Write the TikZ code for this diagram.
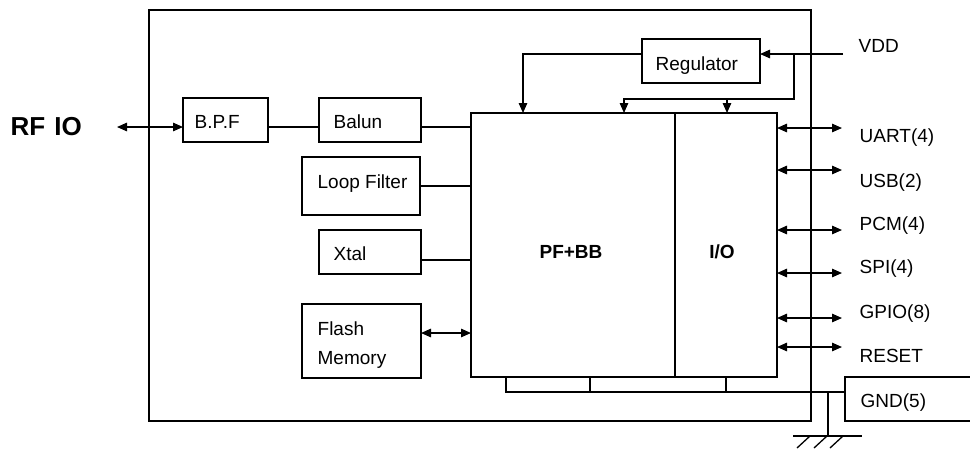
\documentclass[tikz,border=0pt]{standalone}
\usepackage{fontspec}
\setmainfont{Liberation Sans}
\usetikzlibrary{arrows.meta}
\begin{document}
\begin{tikzpicture}[x=1pt,y=-1pt,line width=1.3pt,
  blk/.style={draw,inner sep=0pt,outer sep=0pt},
  txt/.style={anchor=base west,inner sep=0pt,font=\fontsize{19}{22}\selectfont},
  btxt/.style={anchor=base,inner sep=0pt,font=\bfseries\fontsize{19}{22}\selectfont},
  arr/.style={-{Triangle[length=10pt,width=8.5pt]}},
  darr/.style={{Triangle[length=10pt,width=8.5pt]}-{Triangle[length=10pt,width=8.5pt]}}]
\useasboundingbox (0,0) rectangle (970,448);
% outer module box
\node[blk,minimum width=662pt,minimum height=411pt] (module) at (480,215.5) {};
% blocks
\node[blk,minimum width=85pt,minimum height=44pt] (bpf) at (225.5,120) {};
\node[blk,minimum width=102pt,minimum height=44pt] (balun) at (370,120) {};
\node[blk,minimum width=118pt,minimum height=58pt] (loop) at (361,186) {};
\node[blk,minimum width=102pt,minimum height=44pt] (xtal) at (370,252) {};
\node[blk,minimum width=119pt,minimum height=74pt] (flash) at (361.5,341) {};
\node[blk,minimum width=118pt,minimum height=44pt] (reg) at (701,61) {};
\node[blk,minimum width=204pt,minimum height=264pt] (pfbb) at (573,245) {};
\node[blk,minimum width=102pt,minimum height=264pt] (io) at (726,245) {};
% texts
\node[txt] (tbpf) at (194,128) {B.P.F};
\node[txt] (tbalun) at (333,128) {Balun};
\node[txt] (tloop) at (317,188) {Loop Filter};
\node[txt] (txtal) at (333,260) {Xtal};
\node[txt] (tflash) at (317,335) {Flash};
\node[txt] (tmem) at (317,364) {Memory};
\node[txt] (treg) at (655,70) {Regulator};
\node[txt] (tvdd) at (858,52) {VDD};
\node[txt] (tgnd) at (860,407) {GND(5)};
\node[btxt] (tpfbb) at (571,258) {PF+BB};
\node[btxt] (tio) at (722,258) {I/O};
\node[anchor=base west,inner sep=0pt,font=\bfseries\fontsize{26}{29}\selectfont] (rfio) at (10,135) {RF\hspace{9pt}IO};
% connection points
\coordinate (rfend) at (117,127);
\coordinate (bpfo) at ([yshift=-7pt]bpf.east);
\coordinate (baluni) at ([yshift=-7pt]balun.west);
\coordinate (baluno) at ([yshift=-7pt]balun.east);
\coordinate (xtalo) at ([yshift=-8pt]xtal.east);
\coordinate (flasho) at ([yshift=8pt]flash.east);
\coordinate (rego) at ([yshift=7pt]reg.west);
% RF path
\draw[darr] (rfend) -- (bpf.west |- rfend);
\draw (bpfo) -- (baluni);
\draw (baluno) -- (pfbb.west |- baluno);
\draw (loop.east) -- (pfbb.west |- loop.east);
\draw (xtalo) -- (pfbb.west |- xtalo);
\draw[darr] (flasho) -- (pfbb.west |- flasho);
% power
\coordinate (vddin) at (843,54);
\coordinate (j1) at (794,54);
\coordinate (j2) at (624,99);
\coordinate (j3) at (727,99);
\coordinate (r1) at (523,113);
\draw[arr] (vddin) -- (reg.east |- vddin);
\draw[arr] (j1) |- (j2) -- (j2 |- pfbb.north);
\draw[arr] (j3) -- (j3 |- io.north);
\draw[arr] (rego) -| (r1);
% IO signals
\foreach \lab/\ay/\tb [count=\i] in {UART(4)/128/142, USB(2)/170/187, PCM(4)/230/230, SPI(4)/273/273, GPIO(8)/318/318, RESET/347/362}{
  \coordinate (pe\i) at (842,\ay);
  \draw[darr] (io.east |- pe\i) -- (pe\i);
  \node[txt] (sig\i) at (859,\tb) {\lab};
}
% ground strip
\coordinate (s0) at (506,377);
\coordinate (s1) at (506,392);
\coordinate (gb) at (845,392);
\draw (s0) -- (s1) -- (gb);
\draw (590,377) -- (590,392);
\draw (726,377) -- (726,392);
% GND box (open on the right)
\draw (970,377) -- (845,377) -- (845,421) -- (970,421);
% ground symbol
\coordinate (g0) at (828,392);
\coordinate (g1) at (828,436);
\draw (g0) -- (g1);
\draw (793,436) -- (862,436);
\draw (810,436) -- (797,448);
\draw (827,436) -- (814,448);
\draw (843,436) -- (830,448);
\end{tikzpicture}
\end{document}
